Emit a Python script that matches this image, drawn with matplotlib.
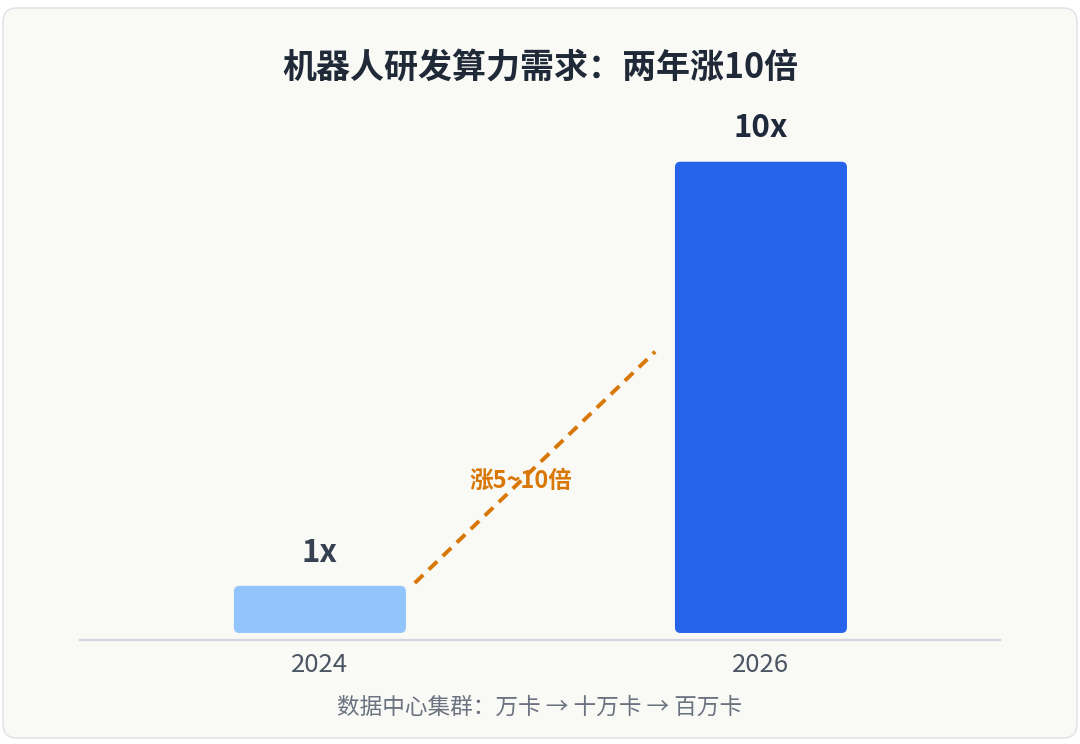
import matplotlib
matplotlib.use('Agg')
import matplotlib.pyplot as plt
from matplotlib.patches import FancyBboxPatch

plt.rcParams['font.family'] = ['Noto Sans CJK SC', 'DejaVu Sans']

# data
years = ['2024', '2026']
values = [1, 10]
value_labels = ['1x', '10x']
bar_colors = ['#93c5fd', '#2563eb']
label_colors = ['#374151', '#1e293b']
title = '机器人研发算力需求：两年涨10倍'
caption = '数据中心集群：万卡 → 十万卡 → 百万卡'
trend_text = '涨5~10倍'
trend_x = [0.215, 0.76]
trend_y = [1.06, 5.97]

fig = plt.figure(figsize=(10.8, 7.44), dpi=100)
fig.patch.set_facecolor('white')

# card background
card = FancyBboxPatch((0.03, 0.06), 10.74, 7.30,
                      boxstyle='round,pad=0,rounding_size=0.14',
                      transform=fig.dpi_scale_trans,
                      facecolor='#f9f9f5', edgecolor='#e3e4e8', linewidth=1.2,
                      zorder=-10)
fig.patches.append(card)

ax = fig.add_axes([80/1080, 104/744, 920/1080, 540/744])
ax.set_facecolor('none')
ax.set_zorder(1)

x = list(range(len(years)))
width = 0.39
bars = ax.bar(x, values, width=width, color=bar_colors)
ax.set_xlim(-0.544, 1.542)
ax.set_ylim(-0.149, 11.31)

# swap plain bars for rounded ones
px_x = 441.0
px_y = 47.1
for b, c in zip(bars, bar_colors):
    b.set_visible(False)
    r = 5.5 / px_x
    rb = FancyBboxPatch((b.get_x(), b.get_y()), b.get_width(), b.get_height(),
                        boxstyle='round,pad=0,rounding_size=%f' % r,
                        mutation_aspect=px_x / px_y,
                        facecolor=c, edgecolor='none', zorder=2)
    ax.add_patch(rb)

for xi, v, lab, lc in zip(x, values, value_labels, label_colors):
    ax.annotate(lab, (xi, v), xytext=(0, 24), textcoords='offset points',
                ha='center', va='center', fontsize=22.5, fontweight='bold',
                color=lc)

ax.plot(trend_x, trend_y, color='#d97706', linewidth=2.8,
        linestyle=(0, (3.0, 2.0)), zorder=3)
ax.text(0.456, 3.23, trend_text, ha='center', va='center', fontsize=17,
        fontweight='bold', color='#d97706', zorder=4)

for s in ['top', 'right', 'left']:
    ax.spines[s].set_visible(False)
ax.spines['bottom'].set_color('#d4d6e2')
ax.spines['bottom'].set_linewidth(1.6)
ax.set_yticks([])
ax.set_xticks(x)
ax.set_xticklabels(years, fontsize=18.5, color='#4b5563')
ax.tick_params(axis='x', length=0, pad=9)

fig.text(0.5, 1 - 68/744, title, ha='center', va='center', fontsize=24.5,
         fontweight='heavy', color='#1f2937')
fig.text(0.5, 1 - 707/744, caption, ha='center', va='center', fontsize=16.3,
         color='#6b7280')

plt.savefig('out.png', dpi=100, facecolor='white')
